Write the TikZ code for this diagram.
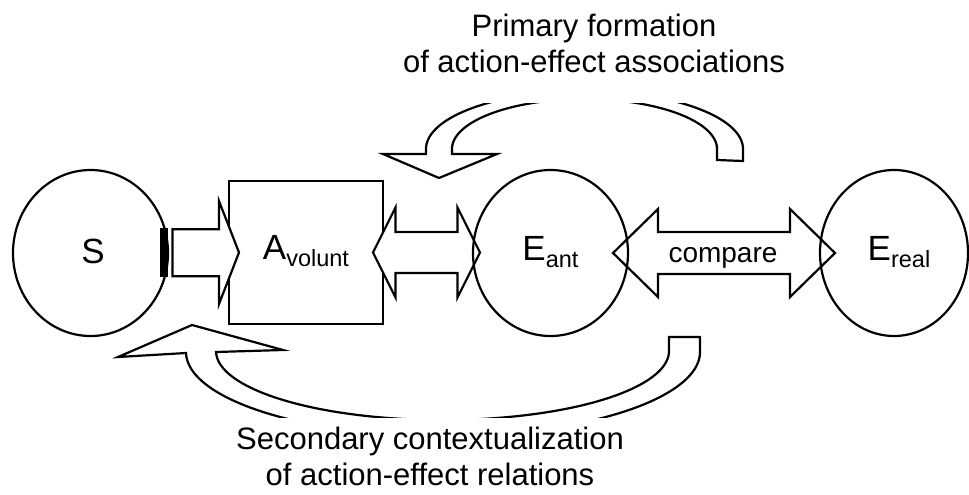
\documentclass[tikz,border=0pt]{standalone}
\usepackage{fontspec}
\setmainfont{Liberation Sans}
\usetikzlibrary{shapes.geometric}
\begin{document}
\begin{tikzpicture}[x=1pt,y=-1pt,line join=miter,
  outl/.style={draw=black,line width=2.2pt},
  blockarrow/.style={outl,fill=white},
  oval/.style={ellipse,outl,inner sep=0pt,minimum width=155pt,minimum height=166pt},
  big/.style={font=\fontsize{35}{40}\selectfont,inner sep=0pt,anchor=base},
  lbl/.style={font=\fontsize{31}{36}\selectfont,align=center,inner sep=0pt,anchor=north}]
\useasboundingbox (0,0) rectangle (969,495);
\newcommand{\subt}[1]{\raisebox{-7pt}{\fontsize{23.5}{26}\selectfont #1}}

% box A
\node[outl,rectangle,minimum width=154pt,minimum height=143pt,inner sep=0pt] (A) at (306,252.5) {};

% S -> A arrow
\draw[blockarrow] (172.5,229.3) -- (219,229.3) -- (219,201) -- (239,252.5)
  -- (219,304) -- (219,276.3) -- (172.5,276.3) -- cycle;

% A <-> E_ant arrow
\draw[blockarrow] (373,252.5) -- (395.5,207.5) -- (395.5,232) -- (457.5,232)
  -- (457.5,207.5) -- (480,252.5) -- (457.5,297.5) -- (457.5,273)
  -- (395.5,273) -- (395.5,297.5) -- cycle;

% compare arrow
\draw[blockarrow] (613,253) -- (658,209) -- (658,232) -- (790,232) -- (790,209)
  -- (835,253) -- (790,297) -- (790,274) -- (658,274) -- (658,297) -- cycle;
\node[font=\fontsize{28}{30}\selectfont,inner sep=0pt,anchor=base] (cmp) at (723,262.5) {compare};

% circles
\node[oval] (S) at (90.5,253) {};
\node[oval] (Ea) at (550.5,253) {};
\node[oval,minimum width=148pt] (Er) at (894,253) {};

% bar
\fill (159.5,228.3) rectangle (168,277.3);

% texts in shapes
\node[big] (St) at (93,263) {S};
\node[big] (At) at (306,259.5) {A\subt{volunt}};
\node[big] (Eat) at (550.5,260.5) {E\subt{ant}};
\node[big] (Ert) at (899,260.5) {E\subt{real}};

% curved arrows
\begin{scope}
\clip (0,103) rectangle (969,417);
\draw[blockarrow] (743,161) -- (743,149)
  -- plot[domain=0:180,samples=91] ({584.5+158.5*cos(\x)},{149-58*sin(\x)})
  -- (426,154) -- (383,154) -- (439,178) -- (497,154) -- (452,154)
  -- plot[domain=180:0,samples=91] ({584.5+132.5*cos(\x)},{149-50*sin(\x)})
  -- (717,160) -- cycle;
\draw[blockarrow] (192,325) -- (118,357) -- (186,353)
  -- plot[domain=180:360,samples=91] ({443+257*cos(\x)},{352-84*sin(\x)})
  -- (700,337) -- (669,337)
  -- plot[domain=360:180,samples=91] ({442.5+226.5*cos(\x)},{351-69*sin(\x)})
  -- (216,352) -- (283,350) -- cycle;
\end{scope}

% labels
\node[lbl] (top) at (594,14) {Primary formation\\of action-effect associations};
\node[lbl] (bot) at (430,427) {Secondary contextualization\\of action-effect relations};
\end{tikzpicture}
\end{document}
